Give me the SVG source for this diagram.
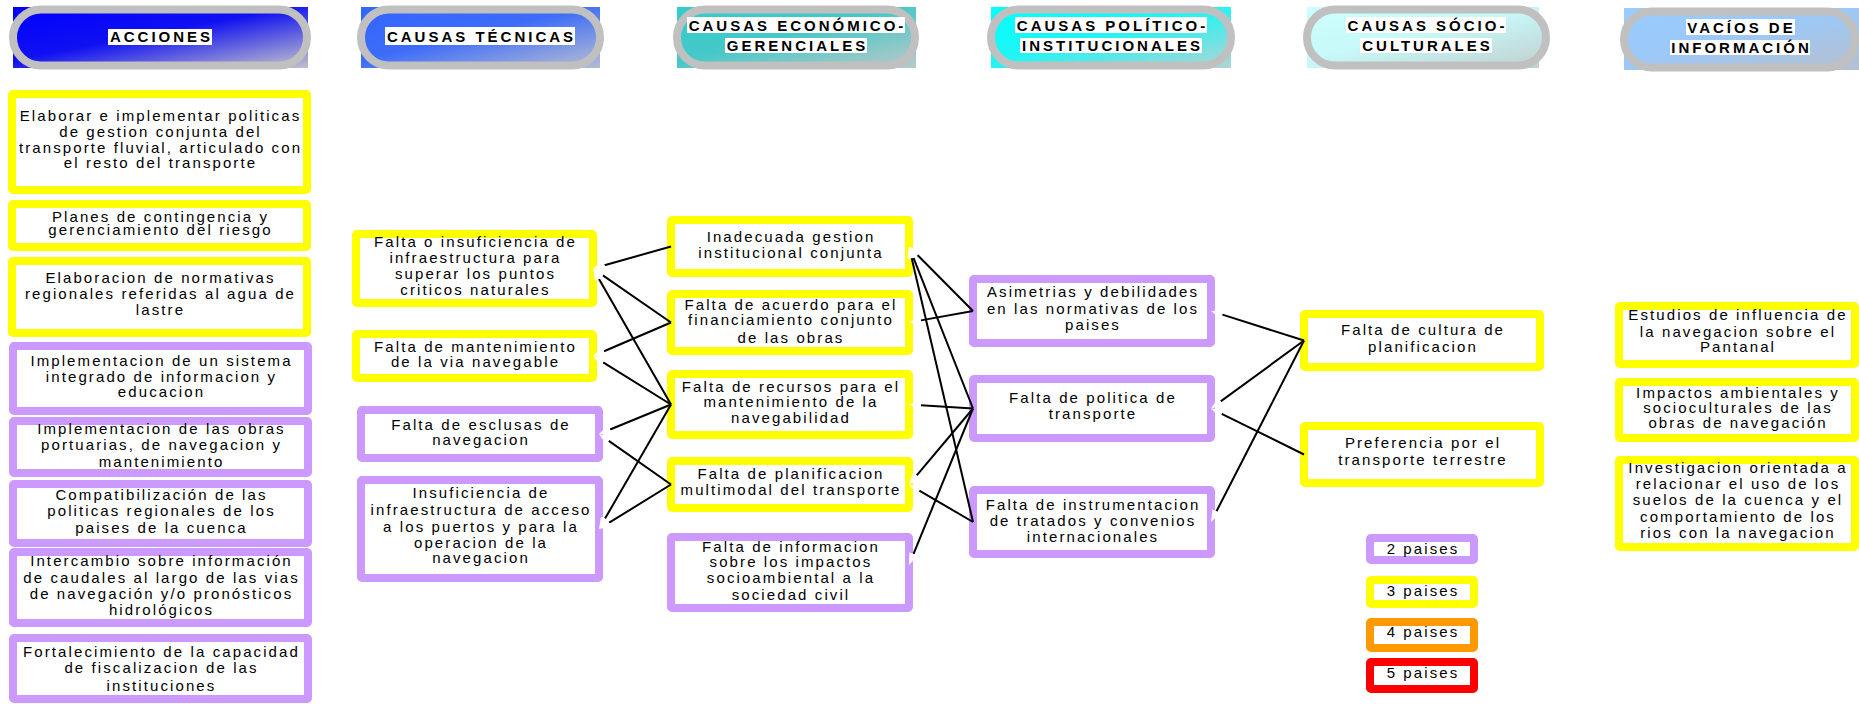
<svg xmlns="http://www.w3.org/2000/svg" width="1859" height="704" viewBox="0 0 1859 704">
<defs>
<style>
.bx{fill:#fff;stroke-width:8}
.y{stroke:#ffff00}.p{stroke:#cc99ff}.o{stroke:#ff9900}.r{stroke:#ff0000}
.t{font-family:"Liberation Sans",Arial,sans-serif;font-size:15px;letter-spacing:2.1px;text-anchor:middle;fill:#000}
.h{font-family:"Liberation Sans",Arial,sans-serif;font-size:15px;font-weight:bold;letter-spacing:3px;text-anchor:middle;fill:#000}
.pill{stroke:#c0c0c0;stroke-width:8}
.wb{fill:#fff}
.c{stroke:#000;stroke-width:2;fill:none;marker-start:url(#wh)}
</style>
<marker id="wh" viewBox="0 -5 13 10" refX="0" refY="0" markerWidth="13" markerHeight="10" markerUnits="userSpaceOnUse" orient="auto-start-reverse"><path d="M0,-4.5 L12,0 L0,4.5 Z" fill="#fff"/></marker>
<linearGradient id="g1" x1="0" y1="0" x2="1" y2="1"><stop offset="0" stop-color="#0000ff"/><stop offset="0.45" stop-color="#1010f2"/><stop offset="1" stop-color="#c0c0cc"/></linearGradient>
<linearGradient id="g2" x1="0" y1="0" x2="1" y2="1"><stop offset="0" stop-color="#3366ff"/><stop offset="0.45" stop-color="#3d6cf8"/><stop offset="1" stop-color="#b4bcd2"/></linearGradient>
<linearGradient id="g3" x1="0" y1="0" x2="1" y2="1"><stop offset="0" stop-color="#33cccc"/><stop offset="0.45" stop-color="#45c8c8"/><stop offset="1" stop-color="#b8c8c8"/></linearGradient>
<linearGradient id="g4" x1="0" y1="0" x2="1" y2="1"><stop offset="0" stop-color="#00ffff"/><stop offset="0.45" stop-color="#20f4f4"/><stop offset="1" stop-color="#b0d4d4"/></linearGradient>
<linearGradient id="g5" x1="0" y1="0" x2="1" y2="1"><stop offset="0" stop-color="#ccffff"/><stop offset="0.45" stop-color="#c8f8f8"/><stop offset="1" stop-color="#c0d0d0"/></linearGradient>
<linearGradient id="g6" x1="0" y1="0" x2="1" y2="1"><stop offset="0" stop-color="#99ccff"/><stop offset="0.45" stop-color="#9cc8f8"/><stop offset="1" stop-color="#b4c0d0"/></linearGradient>
</defs>
<rect width="1859" height="704" fill="#fff"/>

<!-- Headers -->
<g id="h-acciones">
<rect x="13" y="7" width="295" height="61" fill="url(#g1)"/>
<rect class="pill" x="13" y="9.5" width="294" height="56" rx="28" fill="url(#g1)"/>
<rect class="wb" x="108" y="29" width="104" height="16"/>
<text class="h" x="161.5" y="42">ACCIONES</text>
</g>
<g id="h-tecnicas">
<rect x="361" y="7" width="239" height="61" fill="url(#g2)"/>
<rect class="pill" x="361" y="9.5" width="239" height="56" rx="28" fill="url(#g2)"/>
<rect class="wb" x="385" y="27" width="190" height="18"/>
<text class="h" x="481.5" y="42">CAUSAS TÉCNICAS</text>
</g>
<g id="h-economico">
<rect x="677" y="7" width="239" height="61" fill="url(#g3)"/>
<rect class="pill" x="677" y="9.5" width="238" height="56" rx="28" fill="url(#g3)"/>
<rect class="wb" x="687" y="17" width="218" height="16"/>
<rect class="wb" x="725" y="38" width="142" height="15"/>
<text class="h" x="797.5" y="31">CAUSAS ECONÓMICO-</text>
<text class="h" x="797.5" y="51">GERENCIALES</text>
</g>
<g id="h-politico">
<rect x="991" y="7" width="240" height="61" fill="url(#g4)"/>
<rect class="pill" x="991" y="9.5" width="240" height="56" rx="28" fill="url(#g4)"/>
<rect class="wb" x="1015" y="17" width="192" height="16"/>
<rect class="wb" x="1020" y="38" width="182" height="15"/>
<text class="h" x="1112.5" y="31">CAUSAS POLÍTICO-</text>
<text class="h" x="1112.5" y="51">INSTITUCIONALES</text>
</g>
<g id="h-socio">
<rect x="1307" y="7" width="232" height="61" fill="url(#g5)"/>
<rect class="pill" x="1307" y="9.5" width="239" height="56" rx="28" fill="url(#g5)"/>
<rect class="wb" x="1346" y="17" width="160" height="16"/>
<rect class="wb" x="1360" y="38" width="132" height="15"/>
<text class="h" x="1427.5" y="31">CAUSAS SÓCIO-</text>
<text class="h" x="1427.5" y="51">CULTURALES</text>
</g>
<g id="h-vacios">
<rect x="1624" y="8" width="235" height="62" fill="url(#g6)"/>
<rect class="pill" x="1624" y="11.5" width="231" height="56" rx="28" fill="url(#g6)"/>
<rect class="wb" x="1686" y="19" width="109" height="16"/>
<rect class="wb" x="1670" y="40" width="140" height="15"/>
<text class="h" x="1741.5" y="33">VACÍOS DE</text>
<text class="h" x="1741.5" y="53">INFORMACIÓN</text>
</g>

<!-- Acciones -->
<g id="a1"><rect class="bx y" x="12" y="94" width="295" height="96" rx="1"/>
<text class="t"><tspan x="160.5" y="121">Elaborar e implementar politicas</tspan><tspan x="160.5" y="137">de gestion conjunta del</tspan><tspan x="160.5" y="153">transporte fluvial, articulado con</tspan><tspan x="160.5" y="168">el resto del transporte</tspan></text></g>
<g id="a2"><rect class="bx y" x="12" y="204" width="295" height="43" rx="1"/>
<text class="t"><tspan x="160.5" y="221.5">Planes de contingencia y</tspan><tspan x="160.5" y="235">gerenciamiento del riesgo</tspan></text></g>
<g id="a3"><rect class="bx y" x="12" y="261" width="295" height="72" rx="1"/>
<text class="t"><tspan x="160.5" y="282.5">Elaboracion de normativas</tspan><tspan x="160.5" y="299">regionales referidas al agua de</tspan><tspan x="160.5" y="315">lastre</tspan></text></g>
<g id="a4"><rect class="bx p" x="13" y="346" width="295" height="65" rx="1"/>
<text class="t"><tspan x="161.5" y="366">Implementacion de un sistema</tspan><tspan x="161.5" y="382">integrado de informacion y</tspan><tspan x="161.5" y="397">educacion</tspan></text></g>
<g id="a5"><rect class="bx p" x="13" y="421" width="295" height="52" rx="1"/>
<text class="t"><tspan x="161.5" y="433.5">Implementacion de las obras</tspan><tspan x="161.5" y="450">portuarias, de navegacion y</tspan><tspan x="161.5" y="466.5">mantenimiento</tspan></text></g>
<g id="a6"><rect class="bx p" x="13" y="484" width="295" height="59" rx="1"/>
<text class="t"><tspan x="161.5" y="499.5">Compatibilización de las</tspan><tspan x="161.5" y="516">politicas regionales de los</tspan><tspan x="161.5" y="532.5">paises de la cuenca</tspan></text></g>
<g id="a7"><rect class="bx p" x="13" y="552" width="295" height="71" rx="1"/>
<text class="t"><tspan x="161.5" y="566">Intercambio sobre información</tspan><tspan x="161.5" y="582.5">de caudales al largo de las vias</tspan><tspan x="161.5" y="598.5">de navegación y/o pronósticos</tspan><tspan x="161.5" y="615">hidrológicos</tspan></text></g>
<g id="a8"><rect class="bx p" x="13" y="638" width="295" height="61" rx="1"/>
<text class="t"><tspan x="161.5" y="657">Fortalecimiento de la capacidad</tspan><tspan x="161.5" y="673">de fiscalizacion de las</tspan><tspan x="161.5" y="690.5">instituciones</tspan></text></g>

<!-- Causas tecnicas -->
<g id="t1"><rect class="bx y" x="356" y="234" width="237" height="69" rx="1"/>
<text class="t"><tspan x="475.5" y="246.5">Falta o insuficiencia de</tspan><tspan x="475.5" y="263">infraestructura para</tspan><tspan x="475.5" y="279">superar los puntos</tspan><tspan x="475.5" y="295">criticos naturales</tspan></text></g>
<g id="t2"><rect class="bx y" x="356" y="334" width="237" height="44" rx="1"/>
<text class="t"><tspan x="475.5" y="352">Falta de mantenimiento</tspan><tspan x="475.5" y="367">de la via navegable</tspan></text></g>
<g id="t3"><rect class="bx p" x="361" y="410" width="238" height="48" rx="1"/>
<text class="t"><tspan x="481" y="430">Falta de esclusas de</tspan><tspan x="481" y="445">navegacion</tspan></text></g>
<g id="t4"><rect class="bx p" x="361" y="480" width="238" height="98" rx="1"/>
<text class="t"><tspan x="481" y="498">Insuficiencia de</tspan><tspan x="481" y="515">infraestructura de acceso</tspan><tspan x="481" y="531.5">a los puertos y para la</tspan><tspan x="481" y="548">operacion de la</tspan><tspan x="481" y="563">navegacion</tspan></text></g>

<!-- Causas economico-gerenciales -->
<g id="e1"><rect class="bx y" x="671" y="220" width="238" height="53" rx="1"/>
<text class="t"><tspan x="791" y="242">Inadecuada gestion</tspan><tspan x="791" y="257.5">institucional conjunta</tspan></text></g>
<g id="e2"><rect class="bx y" x="671" y="294" width="238" height="57" rx="1"/>
<text class="t"><tspan x="791" y="309.5">Falta de acuerdo para el</tspan><tspan x="791" y="325">financiamiento conjunto</tspan><tspan x="791" y="342.5">de las obras</tspan></text></g>
<g id="e3"><rect class="bx y" x="671" y="374" width="238" height="61" rx="1"/>
<text class="t"><tspan x="791" y="391.5">Falta de recursos para el</tspan><tspan x="791" y="407">mantenimiento de la</tspan><tspan x="791" y="422.5">navegabilidad</tspan></text></g>
<g id="e4"><rect class="bx y" x="671" y="461" width="238" height="47" rx="1"/>
<text class="t"><tspan x="791" y="479">Falta de planificacion</tspan><tspan x="791" y="495">multimodal del transporte</tspan></text></g>
<g id="e5"><rect class="bx p" x="671" y="537" width="238" height="71" rx="1"/>
<text class="t"><tspan x="791" y="551.5">Falta de informacion</tspan><tspan x="791" y="567">sobre los impactos</tspan><tspan x="791" y="583">socioambiental a la</tspan><tspan x="791" y="600">sociedad civil</tspan></text></g>

<!-- Causas politico-institucionales -->
<g id="p1"><rect class="bx p" x="973" y="279" width="238" height="64" rx="1"/>
<text class="t"><tspan x="1093" y="297">Asimetrias y debilidades</tspan><tspan x="1093" y="314">en las normativas de los</tspan><tspan x="1093" y="330">paises</tspan></text></g>
<g id="p2"><rect class="bx p" x="973" y="379" width="238" height="59" rx="1"/>
<text class="t"><tspan x="1093" y="403">Falta de politica de</tspan><tspan x="1093" y="419">transporte</tspan></text></g>
<g id="p3"><rect class="bx p" x="973" y="490" width="238" height="64" rx="1"/>
<text class="t"><tspan x="1093" y="510">Falta de instrumentacion</tspan><tspan x="1093" y="526">de tratados y convenios</tspan><tspan x="1093" y="541.5">internacionales</tspan></text></g>

<!-- Causas socio-culturales -->
<g id="s1"><rect class="bx y" x="1304" y="314" width="236" height="53" rx="1"/>
<text class="t"><tspan x="1423" y="335">Falta de cultura de</tspan><tspan x="1423" y="352">planificacion</tspan></text></g>
<g id="s2"><rect class="bx y" x="1304" y="426" width="236" height="57" rx="1"/>
<text class="t"><tspan x="1423" y="448">Preferencia por el</tspan><tspan x="1423" y="465">transporte terrestre</tspan></text></g>

<!-- Vacios de informacion -->
<g id="v1"><rect class="bx y" x="1619" y="306" width="236" height="58" rx="1"/>
<text class="t"><tspan x="1738" y="320">Estudios de influencia de</tspan><tspan x="1738" y="336.5">la navegacion sobre el</tspan><tspan x="1738" y="352">Pantanal</tspan></text></g>
<g id="v2"><rect class="bx y" x="1619" y="382" width="236" height="56" rx="1"/>
<text class="t"><tspan x="1738" y="398">Impactos ambientales y</tspan><tspan x="1738" y="413">socioculturales de las</tspan><tspan x="1738" y="428">obras de navegación</tspan></text></g>
<g id="v3"><rect class="bx y" x="1619" y="460" width="236" height="87" rx="1"/>
<text class="t"><tspan x="1738" y="473">Investigacion orientada a</tspan><tspan x="1738" y="489">relacionar el uso de los</tspan><tspan x="1738" y="505">suelos de la cuenca y el</tspan><tspan x="1738" y="522">comportamiento de los</tspan><tspan x="1738" y="538">rios con la navegacion</tspan></text></g>

<!-- Legend -->
<g id="l2"><rect class="bx p" x="1370" y="538" width="104" height="22" rx="1"/><text class="t" x="1423" y="553.5">2 paises</text></g>
<g id="l3"><rect class="bx y" x="1370" y="580" width="104" height="24" rx="1"/><text class="t" x="1423" y="595.5">3 paises</text></g>
<g id="l4"><rect class="bx o" x="1370" y="622" width="104" height="26" rx="1"/><text class="t" x="1423" y="637">4 paises</text></g>
<g id="l5"><rect class="bx r" x="1370" y="662" width="104" height="27" rx="1"/><text class="t" x="1423" y="678">5 paises</text></g>

<!-- Connectors -->
<g id="connectors">
<path class="c" d="M604.55,265.24 L671,246.5"/>
<path class="c" d="M602.87,275.33 L671,322.5"/>
<path class="c" d="M598.97,278.91 L671,404.5"/>
<path class="c" d="M604.03,351.26 L671,322.5"/>
<path class="c" d="M603.19,362.34 L671,404.5"/>
<path class="c" d="M610.1,429.45 L671,404.5"/>
<path class="c" d="M608.82,440.89 L671,484.5"/>
<path class="c" d="M605.01,518.61 L671,404.5"/>
<path class="c" d="M609.21,522.69 L671,484.5"/>
<path class="c" d="M917.45,255.02 L973,311"/>
<path class="c" d="M913.41,257.66 L973,408.5"/>
<path class="c" d="M911.72,258.19 L973,522"/>
<path class="c" d="M920.81,320.38 L973,311"/>
<path class="c" d="M920.98,405.25 L973,408.5"/>
<path class="c" d="M916.73,475.32 L973,408.5"/>
<path class="c" d="M919.35,490.57 L973,522"/>
<path class="c" d="M913.54,553.89 L973,408.5"/>
<path class="c" d="M1222.44,314.63 L1304,340.5"/>
<path class="c" d="M1220.69,401.42 L1304,340.5"/>
<path class="c" d="M1221.76,413.82 L1304,454.5"/>
<path class="c" d="M1216.47,511.32 L1304,340.5"/>
</g>
</svg>
